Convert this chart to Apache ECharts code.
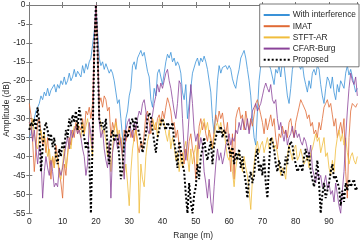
<!DOCTYPE html>
<html>
<head>
<meta charset="utf-8">
<script src="https://cdn.jsdelivr.net/npm/echarts@6/dist/echarts.min.js"></script>
<style>html,body{margin:0;padding:0;background:#fff}#c{width:360px;height:240px}</style>
</head>
<body>
<div id="c"></div>
<script>
// Range samples: every 0.5 m from 0 to 98.5 m
const rangeStep = 0.5;
const seriesNames = ['With interference', 'IMAT', 'STFT-AR', 'CFAR-Burg', 'Proposed'];
const xTicks = [0, 10, 20, 30, 40, 50, 60, 70, 80, 90];
const yTicks = [0, -5, -10, -15, -20, -25, -30, -35, -40, -45, -50, -55];

const withInterference = [
  -35,-34,-31,-30,-28,-27,-26,-24,-25,-23,
  -24,-22,-24,-22.5,-23,-21,-23,-21,-22,-20,
  -21,-19,-21,-20,-18,-20,-19,-17,-19,-17.5,
  -17,-19,-16,-18,-15.5,-17,-15,-14,-13.5,-7,
  0,-7,-14,-16,-15,-17,-15.5,-16,-18,-17,
  -18,-20,-23,-26,-25,-30,-35,-39,-30,-28,
  -24,-22,-16,-15,-17,-14,-13,-12,-13.5,-12.5,
  -15,-17.5,-19,-25,-27,-22,-24,-18,-17,-19,
  -21,-18,-15,-13,-14,-12.5,-15,-14,-16,-15,
  -16,-18,-23,-25,-21,-30,-26,-22,-18,-17.5,
  -15,-14,-16,-14,-15,-13.5,-15,-17,-20,-23,
  -30,-34,-28,-20,-16,-18,-16.5,-17,-16,-17,
  -16,-17,-19.5,-21,-22,-19,-17,-14,-13,-12,
  -14,-17,-20,-24,-30,-35,-37,-28,-20,-16,
  -15,-14,-13.5,-14.5,-15,-17,-19,-21,-17,-18,
  -16,-19,-15,-16,-20,-24,-26,-22,-17,-15,
  -14.5,-15,-16,-17,-15.5,-19,-21,-23,-20,-22,
  -18,-17,-18.5,-16,-17,-21,-24,-26,-22,-19,
  -20,-22,-19,-23,-25,-21,-23,-20,-19.5,-22,
  -18,-16,-18.5,-17,-19,-21,-23,-22
];
const imat = [
  -26,-29,-36,-44,-38,-31,-30,-34,-37,-35,
  -39,-35,-41,-46,-40,-43,-37,-40,-44,-47,
  -51,-42,-45,-39,-35,-37,-33,-35,-31,-34,
  -32,-33,-30,-34,-28,-29,-27,-30,-26,-10,
  0,-10,-26,-24.5,-27,-24,-25,-28,-27,-35,
  -31,-33,-30,-34,-37,-35,-39,-33,-36,-34,
  -32,-35,-33,-36,-32,-37,-39,-36,-38,-34,
  -29,-28,-31,-34,-30,-32,-33,-30,-29,-31,
  -28,-30,-27,-24.5,-26,-28,-32,-31,-35,-33,
  -37,-40,-39,-42,-38,-41,-36,-34,-38,-40,
  -46,-38,-32,-30,-33,-31,-34,-36,-33,-35,
  -38,-33,-29,-31,-28,-30,-28.5,-32,-34,-31,
  -31,-44,-34,-46,-30,-28,-27,-30,-29,-33,
  -28,-31,-33,-30,-32,-29,-26,-25,-27,-29,
  -31,-34,-30,-33,-31,-29,-32,-30,-35,-38,
  -34,-35,-32,-34,-33,-35,-31,-30,-33,-35,
  -31,-29,-27,-25,-26,-25.5,-28,-30,-29,-32,
  -31,-34,-33,-35,-31,-33,-30,-27,-26,-25,
  -27,-26,-29,-32,-30,-35,-33,-31,-34,-30,
  -44,-51,-35,-28,-26,-25.5,-27,-26
];
const stftAr = [
  -31,-33,-30,-34,-37,-38,-35,-33,-36,-34,
  -37,-40,-38,-42,-40,-43,-39,-41,-45,-46,
  -42,-38,-43,-40,-36,-38,-34,-32,-33,-31,
  -33,-35,-31,-34,-32,-30,-33,-36,-40,-12,
  0,-12,-30,-31,-34,-33,-36,-40,-37,-44,
  -38,-33,-31,-35,-33,-36,-41,-45,-42,-47,
  -53,-44,-38,-35,-33,-36,-55,-42,-46,-48,
  -40,-36,-34,-32,-30,-33,-31,-35,-30,-32,
  -30,-31,-34,-36,-33,-38,-35,-37,-41,-39,
  -44,-40,-43,-38,-36,-40,-44,-38,-42,-39,
  -37,-43,-35,-33,-31,-30,-33,-31,-34,-36,
  -38,-35,-32,-31,-33,-31,-34,-33,-37,-40,
  -41,-38,-44,-48,-43,-40,-39,-41,-44,-40,
  -43,-45,-49,-54,-46,-42,-38,-36,-39,-37,
  -36,-39,-37,-35,-38,-36,-35,-38,-37,-39,
  -42,-45,-43,-44,-46,-40,-37,-39,-41,-38,
  -37,-41,-40,-38,-40,-42,-41,-40,-43,-39,
  -38,-36,-34,-36,-35,-39,-37,-35,-40,-39,
  -43,-45,-41,-44,-38,-35,-33,-36,-34,-37,
  -35,-39,-42,-40,-39,-41,-42,-40
];
const cfarBurg = [
  -31,-32,-36,-33,-38,-42,-37,-40,-51,-44,
  -40,-43,-45,-41,-44,-48,-47,-48,-43,-45,
  -43,-40,-37,-35,-38,-33,-35,-33,-32,-34,
  -33,-35,-38,-40,-45,-42,-31,-34,-38,-10,
  0,-10,-31,-35,-33,-38,-41,-43,-36,-51,
  -39,-36,-35,-38,-34,-37,-40,-46,-33,-31,
  -30,-33,-35,-31,-33,-30,-28,-29,-26,-25,
  -28,-33,-34,-31,-29,-26,-24,-21,-23,-20.6,
  -22,-20,-18,-17,-20,-22,-25,-28,-30,-26,
  -20,-21,-30,-38,-41,-36,-29,-21,-26,-33,
  -36,-34,-38,-35,-37,-44,-47,-51,-46,-52,
  -55,-48,-42,-38,-41,-39,-42,-40,-37,-36,
  -34,-37,-35,-36,-33,-34,-31,-33,-30,-32,
  -33,-30,-34,-31,-28,-27,-26,-28,-27.5,-26,
  -24,-22,-20.6,-22,-23,-21,-25,-26,-25,-30,
  -33,-31,-34,-36,-33,-37,-35,-34,-32,-35,
  -33,-35,-34,-36,-37,-35,-36,-38,-40,-37,
  -43,-45,-47,-44,-46,-45,-48,-47,-45,-48.5,
  -47,-50,-49,-52,-47,-50,-53,-55,-49,-44,
  -35,-28,-22,-18,-20,-21,-19,-24
];
const proposed = [
  -33,-31,-32,-30,-33,-27,-31,-44,-38,-33,
  -31,-33,-36,-34,-37.5,-35,-40,-42,-38,-40,
  -36,-38,-33,-35,-30,-32,-29,-31,-28,-33,
  -27,-30,-33,-35,-38,-36,-40,-55,-36,-12,
  0,-12,-30,-32,-31,-33,-30,-38,-42,-35,
  -33,-36,-34,-35,-40,-46,-43,-36,-33,-35,
  -33,-31,-30,-33,-29.5,-32,-34,-36,-39,-37,
  -34,-30,-28.5,-29.5,-33,-36,-39,-35,-33,-31,
  -30,-32,-33,-31,-32,-33,-31,-36,-39,-43,
  -36,-38,-42,-44,-50,-55,-47,-52,-55,-50,
  -48,-42,-46,-40,-38,-35,-39,-41,-38,-36,
  -42,-37,-35,-33,-34,-32,-35,-33,-34,-36,
  -38,-40,-37.5,-42,-39,-41,-38,-43,-40,-44,
  -47,-51,-46,-44,-47,-45,-40,-38,-44,-42,
  -45,-40,-47,-51,-42,-35,-36,-38,-42,-44,
  -41,-43,-45,-44,-40,-42,-37.5,-36,-37,-40,
  -42,-44,-43,-42,-44,-40,-38,-41,-39,-44,
  -46,-48,-45,-41,-47,-55,-50,-47,-51,-49,
  -47,-44,-42,-46,-45,-47,-48,-53,-49,-52,
  -47,-49,-46,-48,-47,-46,-49,-48
];

const allValues = [withInterference, imat, stftAr, cfarBurg, proposed];
const colors = ['#3a92d8', '#e06a35', '#f0bd3c', '#8a4399', '#000000'];
const font = '"Liberation Sans", Arial, Helvetica, sans-serif';
const txt = '#262626';
const axisCol = '#7a7a7a';

function pairs(vals) { return vals.map((v, i) => [i * rangeStep, v]); }

const chart = echarts.init(document.getElementById('c'), null, { renderer: 'canvas' });

const series = allValues.map((vals, k) => ({
  name: seriesNames[k],
  type: 'line',
  data: pairs(vals),
  showSymbol: false,
  symbol: 'none',
  animation: false,
  z: 2 + k,
  lineStyle: k === 4
    ? { color: colors[k], width: 2, type: [2, 2], cap: 'butt' }
    : { color: colors[k], width: 0.8 },
  itemStyle: { color: colors[k] },
  emphasis: { disabled: true }
}));

const axisCommon = {
  axisLine: { show: true, lineStyle: { color: axisCol, width: 1 } },
  axisTick: { show: true, inside: true, length: 3, lineStyle: { color: axisCol, width: 1 } },
  splitLine: { show: false }
};

chart.setOption({
  animation: false,
  backgroundColor: '#fff',
  textStyle: { fontFamily: font },
  grid: { left: 29.3, right: 3, top: 5, bottom: 26.7, containLabel: false, outerBoundsMode: 'none' },
  legend: {
    data: seriesNames,
    orient: 'vertical',
    right: 1,
    top: 4,
    backgroundColor: '#fff',
    borderColor: '#555',
    borderWidth: 0.8,
    borderRadius: 0,
    padding: [7, 3, 3, 3],
    itemWidth: 26,
    itemHeight: 9,
    itemGap: 3.2,
    itemStyle: { opacity: 0 },
    textStyle: { fontFamily: font, fontSize: 8.4, color: txt, padding: [0, 0, 0, -2] },
    z: 20
  },
  xAxis: [
    Object.assign({
      type: 'value', min: 0, max: 98.4, interval: 10,
      name: 'Range (m)', nameLocation: 'middle', nameGap: 18, nameMoveOverlap: false,
      nameTextStyle: { fontFamily: font, fontSize: 8.4, color: txt },
      axisLabel: {
        fontFamily: font, fontSize: 8.4, color: txt, margin: 4,
        formatter: v => (xTicks.indexOf(v) >= 0 ? String(v) : '')
      }
    }, axisCommon),
    Object.assign({
      type: 'value', min: 0, max: 98.4, interval: 10, position: 'top',
      axisLabel: { show: false }
    }, axisCommon)
  ],
  yAxis: [
    Object.assign({
      type: 'value', min: -55, max: 0, interval: 5,
      name: 'Amplitude (dB)', nameLocation: 'middle', nameGap: 19, nameMoveOverlap: false,
      nameRotate: 90,
      nameTextStyle: { fontFamily: font, fontSize: 8.4, color: txt },
      axisLabel: {
        fontFamily: font, fontSize: 8.4, color: txt, margin: 4,
        formatter: v => (yTicks.indexOf(v) >= 0 ? String(v) : '')
      }
    }, axisCommon),
    Object.assign({
      type: 'value', min: -55, max: 0, interval: 5, position: 'right',
      axisLabel: { show: false }
    }, axisCommon)
  ],
  series: series
});
</script>
</body>
</html>
